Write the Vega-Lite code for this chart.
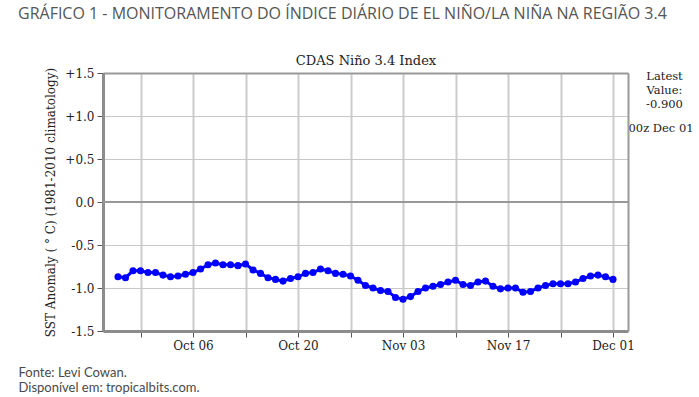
{
  "$schema": "https://vega.github.io/schema/vega-lite/v6.json",
  "width": 525,
  "height": 258,
  "autosize": {"type": "none"},
  "padding": {"left": 103, "top": 73, "right": 71, "bottom": 66},
  "background": "white",
  "title": {
    "text": "GRÁFICO 1 - MONITORAMENTO DO ÍNDICE DIÁRIO DE EL NIÑO/LA NIÑA NA REGIÃO 3.4",
    "anchor": "start",
    "frame": "group",
    "dx": -85,
    "dy": -22,
    "offset": 10,
    "font": "Open Sans",
    "fontSize": 16,
    "fontWeight": "normal",
    "color": "#555555"
  },
  "config": {
    "view": {"stroke": null},
    "axis": {"labelFont": "DejaVu Serif", "titleFont": "DejaVu Serif", "labelColor": "#222222", "titleColor": "#222222", "titleFontWeight": "normal"}
  },
  "data": {
    "values": [
      {"date": "2025-09-26", "anomaly": -0.87},
      {"date": "2025-09-27", "anomaly": -0.88},
      {"date": "2025-09-28", "anomaly": -0.80},
      {"date": "2025-09-29", "anomaly": -0.80},
      {"date": "2025-09-30", "anomaly": -0.82},
      {"date": "2025-10-01", "anomaly": -0.82},
      {"date": "2025-10-02", "anomaly": -0.85},
      {"date": "2025-10-03", "anomaly": -0.87},
      {"date": "2025-10-04", "anomaly": -0.86},
      {"date": "2025-10-05", "anomaly": -0.84},
      {"date": "2025-10-06", "anomaly": -0.82},
      {"date": "2025-10-07", "anomaly": -0.78},
      {"date": "2025-10-08", "anomaly": -0.73},
      {"date": "2025-10-09", "anomaly": -0.71},
      {"date": "2025-10-10", "anomaly": -0.73},
      {"date": "2025-10-11", "anomaly": -0.73},
      {"date": "2025-10-12", "anomaly": -0.74},
      {"date": "2025-10-13", "anomaly": -0.72},
      {"date": "2025-10-14", "anomaly": -0.79},
      {"date": "2025-10-15", "anomaly": -0.83},
      {"date": "2025-10-16", "anomaly": -0.88},
      {"date": "2025-10-17", "anomaly": -0.90},
      {"date": "2025-10-18", "anomaly": -0.92},
      {"date": "2025-10-19", "anomaly": -0.89},
      {"date": "2025-10-20", "anomaly": -0.87},
      {"date": "2025-10-21", "anomaly": -0.83},
      {"date": "2025-10-22", "anomaly": -0.82},
      {"date": "2025-10-23", "anomaly": -0.78},
      {"date": "2025-10-24", "anomaly": -0.80},
      {"date": "2025-10-25", "anomaly": -0.83},
      {"date": "2025-10-26", "anomaly": -0.84},
      {"date": "2025-10-27", "anomaly": -0.86},
      {"date": "2025-10-28", "anomaly": -0.91},
      {"date": "2025-10-29", "anomaly": -0.97},
      {"date": "2025-10-30", "anomaly": -1.00},
      {"date": "2025-10-31", "anomaly": -1.03},
      {"date": "2025-11-01", "anomaly": -1.04},
      {"date": "2025-11-02", "anomaly": -1.11},
      {"date": "2025-11-03", "anomaly": -1.13},
      {"date": "2025-11-04", "anomaly": -1.10},
      {"date": "2025-11-05", "anomaly": -1.04},
      {"date": "2025-11-06", "anomaly": -1.00},
      {"date": "2025-11-07", "anomaly": -0.98},
      {"date": "2025-11-08", "anomaly": -0.96},
      {"date": "2025-11-09", "anomaly": -0.93},
      {"date": "2025-11-10", "anomaly": -0.91},
      {"date": "2025-11-11", "anomaly": -0.96},
      {"date": "2025-11-12", "anomaly": -0.97},
      {"date": "2025-11-13", "anomaly": -0.93},
      {"date": "2025-11-14", "anomaly": -0.92},
      {"date": "2025-11-15", "anomaly": -0.98},
      {"date": "2025-11-16", "anomaly": -1.01},
      {"date": "2025-11-17", "anomaly": -1.00},
      {"date": "2025-11-18", "anomaly": -1.00},
      {"date": "2025-11-19", "anomaly": -1.05},
      {"date": "2025-11-20", "anomaly": -1.04},
      {"date": "2025-11-21", "anomaly": -1.00},
      {"date": "2025-11-22", "anomaly": -0.97},
      {"date": "2025-11-23", "anomaly": -0.95},
      {"date": "2025-11-24", "anomaly": -0.95},
      {"date": "2025-11-25", "anomaly": -0.95},
      {"date": "2025-11-26", "anomaly": -0.93},
      {"date": "2025-11-27", "anomaly": -0.89},
      {"date": "2025-11-28", "anomaly": -0.86},
      {"date": "2025-11-29", "anomaly": -0.85},
      {"date": "2025-11-30", "anomaly": -0.87},
      {"date": "2025-12-01", "anomaly": -0.90}
    ]
  },
  "resolve": {"axis": {"x": "independent", "y": "independent"}},
  "layer": [
    {
      "mark": {"type": "rule", "color": "#999999", "strokeWidth": 1.5},
      "encoding": {
        "y": {"datum": 0, "type": "quantitative", "axis": null, "scale": {"domain": [-1.5, 1.5], "nice": false}}
      }
    },
    {
      "mark": {"type": "line", "color": "#0000ff", "strokeWidth": 3},
      "encoding": {
        "x": {
          "field": "date",
          "type": "temporal",
          "scale": {"type": "utc", "domain": [{"year": 2025, "month": 9, "date": 24, "utc": true}, {"year": 2025, "month": 12, "date": 3, "utc": true}]},
          "axis": {
            "orient": "bottom",
            "values": [
              {"year": 2025, "month": 9, "date": 29, "utc": true},
              {"year": 2025, "month": 10, "date": 6, "utc": true},
              {"year": 2025, "month": 10, "date": 13, "utc": true},
              {"year": 2025, "month": 10, "date": 20, "utc": true},
              {"year": 2025, "month": 10, "date": 27, "utc": true},
              {"year": 2025, "month": 11, "date": 3, "utc": true},
              {"year": 2025, "month": 11, "date": 10, "utc": true},
              {"year": 2025, "month": 11, "date": 17, "utc": true},
              {"year": 2025, "month": 11, "date": 24, "utc": true},
              {"year": 2025, "month": 12, "date": 1, "utc": true}
            ],
            "labelExpr": "indexof(['Oct 06','Oct 20','Nov 03','Nov 17','Dec 01'], utcFormat(datum.value, '%b %d')) >= 0 ? utcFormat(datum.value, '%b %d') : ''",
            "labelFontSize": 12,
            "labelPadding": 3,
            "domainColor": "#8c8c8c",
            "domainWidth": 3,
            "tickColor": "#555555",
            "tickSize": 6,
            "grid": true,
            "gridColor": "#cccccc",
            "gridWidth": 2,
            "title": ["Fonte:  Levi Cowan.", "Disponível em: tropicalbits.com."],
            "titleFont": "Lato",
            "titleFontSize": 13,
            "titleColor": "#4a4a4a",
            "titleAngle": 0,
            "titleAlign": "left",
            "titleAnchor": "start",
            "titleBaseline": "top",
            "titleX": -85,
            "titleY": 35,
            "titleLineHeight": 15
          }
        },
        "y": {
          "field": "anomaly",
          "type": "quantitative",
          "scale": {"domain": [-1.5, 1.5], "nice": false},
          "axis": {
            "orient": "left",
            "values": [-1.5, -1, -0.5, 0, 0.5, 1, 1.5],
            "labelExpr": "datum.value > 0 ? '+' + format(datum.value, '.1f') : (datum.value < 0 ? '-' + format(-datum.value, '.1f') : '0.0')",
            "labelFontSize": 12,
            "labelPadding": 3,
            "domainColor": "#8c8c8c",
            "domainWidth": 3,
            "tickColor": "#555555",
            "tickSize": 6,
            "grid": true,
            "gridColor": "#c8c8c8",
            "gridWidth": 1,
            "title": "SST Anomaly ( ° C) (1981-2010 climatology)",
            "titleFontSize": 12,
            "titleAngle": 270,
            "titleBaseline": "middle",
            "titleX": -53,
            "titleY": 129
          }
        }
      }
    },
    {
      "mark": {"type": "point", "filled": true, "color": "#0000ff", "size": 50, "opacity": 1},
      "encoding": {
        "x": {
          "field": "date",
          "type": "temporal",
          "scale": {"type": "utc"},
          "axis": {
            "orient": "top",
            "labels": false,
            "ticks": false,
            "grid": false,
            "domainColor": "#999999",
            "domainWidth": 2,
            "title": "CDAS Niño 3.4 Index",
            "titleFontSize": 13,
            "titlePadding": 6
          }
        },
        "y": {
          "field": "anomaly",
          "type": "quantitative",
          "axis": {
            "orient": "right",
            "values": [0.856],
            "labelExpr": "'00z Dec 01'",
            "labelFontSize": 11.5,
            "labelPadding": 0,
            "labelBaseline": "middle",
            "labelAlign": "left",
            "ticks": false,
            "grid": false,
            "domainColor": "#999999",
            "domainWidth": 2,
            "title": ["Latest", "Value:", "-0.900"],
            "titleFontSize": 11.5,
            "titleAngle": 0,
            "titleAlign": "center",
            "titleBaseline": "top",
            "titleX": 36,
            "titleY": -3,
            "titleLineHeight": 14
          }
        }
      }
    }
  ]
}
